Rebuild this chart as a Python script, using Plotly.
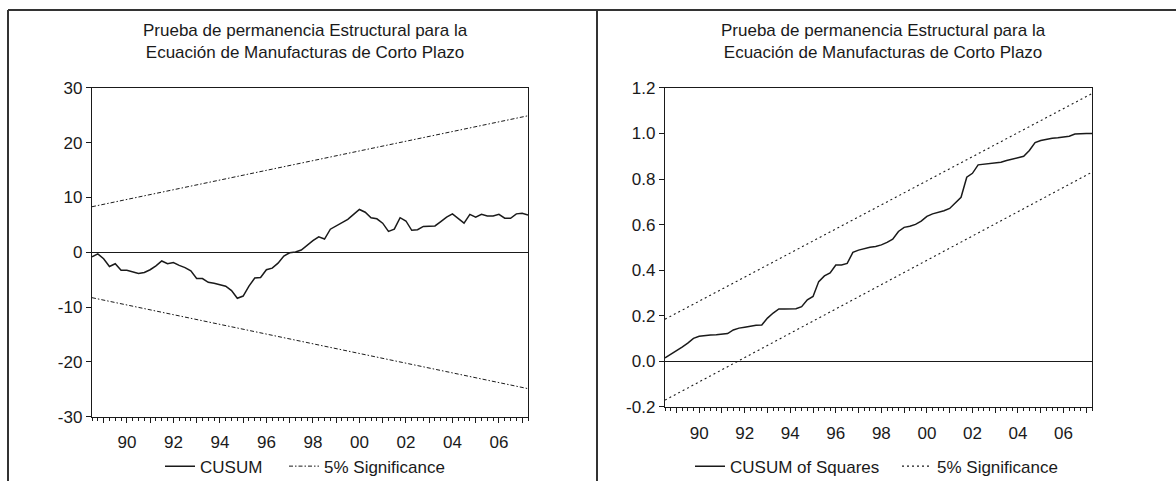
import pandas as pd
import plotly.graph_objects as go

# Quarterly sample used for the recursive residual tests
quarters = pd.period_range("1988Q3", "2007Q2", freq="Q")
t = [p.year + (p.quarter - 1) / 4 for p in quarters]

cusum = [-0.85, -0.3, -1.2, -2.6, -2.1, -3.3, -3.3, -3.6, -3.9, -3.7,
         -3.2, -2.5, -1.6, -2.1, -1.9, -2.4, -2.8, -3.4, -4.8, -4.8,
         -5.5, -5.65, -5.9, -6.2, -7.0, -8.4, -8.0, -6.2, -4.7, -4.6,
         -3.2, -2.9, -2.0, -0.7, -0.1, 0.05, 0.4, 1.3, 2.1, 2.8,
         2.4, 4.2, 4.8, 5.3, 6.0, 6.9, 7.8, 7.3, 6.3, 6.1,
         5.3, 3.8, 4.2, 6.3, 5.7, 4.0, 4.1, 4.7, 4.7, 4.8,
         5.6, 6.4, 7.0, 6.2, 5.3, 6.9, 6.4, 6.9, 6.6, 6.6,
         6.9, 6.2, 6.2, 7.0, 7.1, 6.8]
cusum_sig_upper = [8.3, 24.9]
cusum_sig_lower = [-8.3, -24.9]

cusumsq = [0.015, 0.03, 0.045, 0.063, 0.08, 0.101, 0.11, 0.114, 0.116, 0.117,
           0.118, 0.122, 0.138, 0.146, 0.15, 0.155, 0.158, 0.16, 0.19, 0.212,
           0.23, 0.23, 0.23, 0.231, 0.24, 0.27, 0.285, 0.35, 0.375, 0.388,
           0.423, 0.423, 0.43, 0.478, 0.488, 0.495, 0.501, 0.504, 0.511, 0.522,
           0.536, 0.57, 0.588, 0.593, 0.601, 0.615, 0.636, 0.647, 0.653, 0.661,
           0.671, 0.696, 0.72, 0.808, 0.825, 0.862, 0.865, 0.867, 0.868, 0.874,
           0.881, 0.887, 0.892, 0.90, 0.925, 0.96, 0.969, 0.975, 0.979, 0.981,
           0.983, 0.988, 0.997, 1.0, 1.0, 1.0]
cusumsq_sig_upper = [0.185, 1.175]
cusumsq_sig_lower = [-0.17, 0.83]

band_t = [t[0], t[-1]]

x_tick_years = list(range(1989, 2008))
x_tick_text = [f"{y % 100:02d}" if y % 2 == 0 else "" for y in x_tick_years]
left_y_ticks = [-30, -20, -10, 0, 10, 20, 30]
left_y_text = ["-30", "-20", "-10", "0", "10", "20", "30"]
right_y_ticks = [-0.2, 0.0, 0.2, 0.4, 0.6, 0.8, 1.0, 1.2]
right_y_text = ["-0.2", "0.0", "0.2", "0.4", "0.6", "0.8", "1.0", "1.2"]

title_text = "Prueba de permanencia Estructural para la<br>Ecuación de Manufacturas de Corto Plazo"

W, H = 1176, 491
FONT = "Liberation Sans, Arial, sans-serif"
INK = "#1a1a1a"
SIG_DASH_L = "4px,2px,1.5px,2px"
SIG_DASH_R = "2px,3px"


def px_x(v):
    return v / W


def px_y(v):
    return 1 - v / H


fig = go.Figure()

# Left panel: CUSUM
fig.add_trace(go.Scatter(x=t, y=cusum, mode="lines", name="CUSUM",
                         line=dict(color=INK, width=1.5),
                         xaxis="x", yaxis="y", legend="legend"))
fig.add_trace(go.Scatter(x=band_t, y=cusum_sig_upper, mode="lines", name="5% Significance",
                         line=dict(color=INK, width=1, dash=SIG_DASH_L),
                         xaxis="x", yaxis="y", legend="legend2"))
fig.add_trace(go.Scatter(x=band_t, y=cusum_sig_lower, mode="lines", showlegend=False,
                         line=dict(color=INK, width=1, dash=SIG_DASH_L),
                         xaxis="x", yaxis="y"))

# Right panel: CUSUM of squares
fig.add_trace(go.Scatter(x=t, y=cusumsq, mode="lines", name="CUSUM of Squares",
                         line=dict(color=INK, width=1.5),
                         xaxis="x2", yaxis="y2", legend="legend3"))
fig.add_trace(go.Scatter(x=band_t, y=cusumsq_sig_upper, mode="lines", name="5% Significance",
                         line=dict(color=INK, width=1.1, dash=SIG_DASH_R),
                         xaxis="x2", yaxis="y2", legend="legend4"))
fig.add_trace(go.Scatter(x=band_t, y=cusumsq_sig_lower, mode="lines", showlegend=False,
                         line=dict(color=INK, width=1.1, dash=SIG_DASH_R),
                         xaxis="x2", yaxis="y2"))

xcommon = dict(range=[t[0], t[-1]], tickmode="array", tickvals=x_tick_years,
               ticktext=x_tick_text, ticks="outside", ticklen=5, tickwidth=1,
               tickcolor=INK, showline=True, linecolor=INK, linewidth=1.4,
               mirror=True, showgrid=False, zeroline=False, ticklabelstandoff=5,
               minor=dict(tickmode="linear", tick0=t[0], dtick=0.25, ticks="outside",
                          ticklen=3, tickwidth=1, tickcolor=INK, showgrid=False),
               tickfont=dict(family=FONT, size=17, color=INK))
ycommon = dict(tickmode="array", ticks="outside", ticklen=5, tickwidth=1, tickcolor=INK,
               showline=True, linecolor=INK, linewidth=1.4, mirror=True,
               showgrid=False, zeroline=True, zerolinecolor=INK, zerolinewidth=1.2,
               tickfont=dict(family=FONT, size=17, color=INK))


def legend_at(x_left):
    return dict(orientation="h", xanchor="left", yanchor="middle",
                x=px_x(x_left), y=px_y(476),
                font=dict(family=FONT, size=17, color=INK),
                bgcolor="rgba(0,0,0,0)")


fig.update_layout(
    width=W, height=H,
    margin=dict(l=0, r=0, t=0, b=0),
    paper_bgcolor="white", plot_bgcolor="white",
    font=dict(family=FONT, size=17, color=INK),
    xaxis=dict(domain=[px_x(92), px_x(528)], anchor="y", **xcommon),
    yaxis=dict(domain=[px_y(424), px_y(82)], anchor="x", range=[-30, 30],
               tickvals=left_y_ticks, ticktext=left_y_text, **ycommon),
    xaxis2=dict(domain=[px_x(665), px_x(1092)], anchor="y2", **xcommon),
    yaxis2=dict(domain=[px_y(414), px_y(82)], anchor="x2", range=[-0.2, 1.2],
                tickvals=right_y_ticks, ticktext=right_y_text, **ycommon),
    legend=legend_at(160),
    legend2=legend_at(284),
    legend3=legend_at(690),
    legend4=legend_at(897),
    showlegend=True,
)

for cx in (305, 884):
    fig.add_annotation(x=px_x(cx), y=px_y(33.5), xref="paper", yref="paper",
                       text=title_text, showarrow=False, xanchor="center",
                       yanchor="middle", font=dict(family=FONT, size=17, color=INK))

# Panel frames
frame = dict(type="line", xref="paper", yref="paper", line=dict(color="#333", width=2))
fig.add_shape(x0=px_x(8), x1=1, y0=px_y(1), y1=px_y(1), **frame)
fig.add_shape(x0=px_x(8), x1=px_x(8), y0=0, y1=px_y(1), **frame)
fig.add_shape(x0=px_x(597), x1=px_x(597), y0=0, y1=px_y(1), **frame)

fig.write_html("out.html")
